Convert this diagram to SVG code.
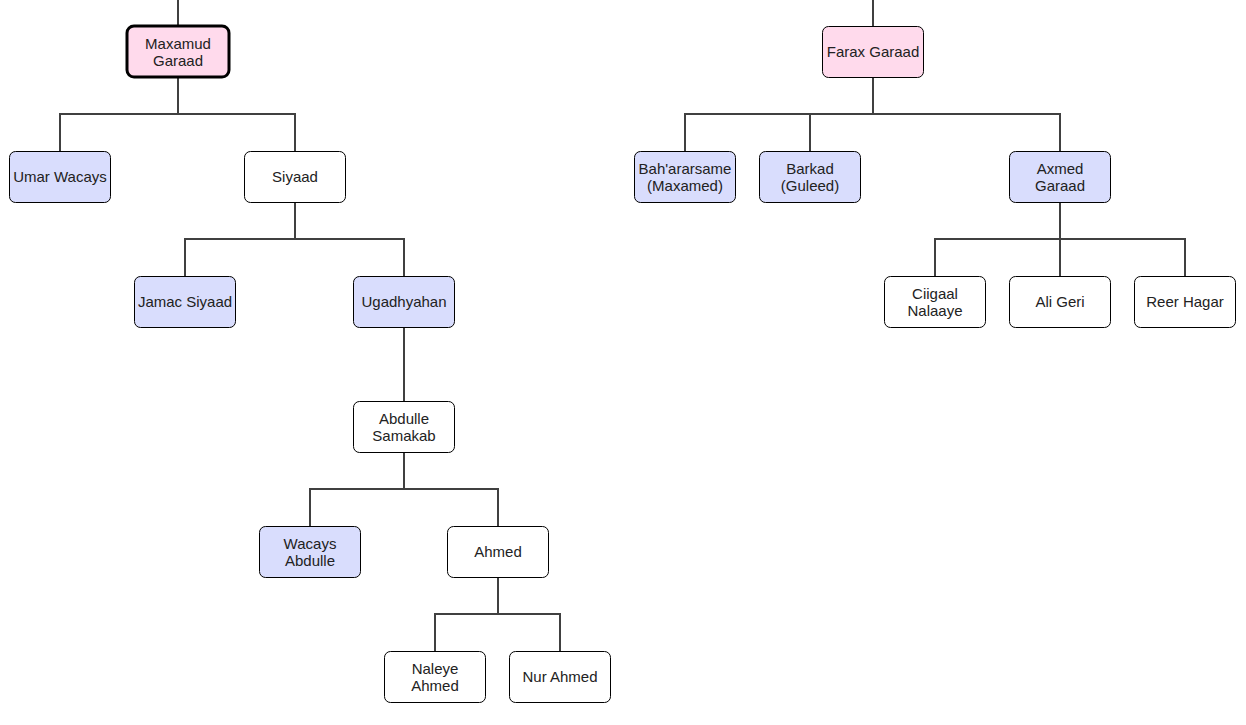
<svg xmlns="http://www.w3.org/2000/svg" width="1246" height="725" viewBox="0 0 1246 725">
<style>
.n rect{stroke:#000;stroke-width:1;}
.b rect{fill:#d9ddfd;}
.w rect{fill:#fff;}
.p rect{fill:#ffdaec;}
.n text{font-family:"Liberation Sans",Arial,sans-serif;font-size:15px;fill:#222;text-anchor:middle;}
.c{fill:none;stroke:#404040;stroke-width:2;}
</style>
<rect width="1246" height="725" fill="#fff"/>
<g id="connectors" class="c">
<path d="M178 0V26M873 0V26"/>
<path d="M178 78V114M60 151V114H295V151"/>
<path d="M295 202V239M185 276V239H404V276"/>
<path d="M404 327V401"/>
<path d="M404 452V489M310 526V489H498V526"/>
<path d="M498 577V614M435 651V614H560V651"/>
<path d="M873 77V114M685 151V114H1060V151M810 114V151"/>
<path d="M1060 202V239M935 276V239H1185V276M1060 239V276"/>
</g>
<g id="maxamud" class="n p"><rect x="127" y="26" width="102" height="51" rx="7" style="stroke-width:3"/><text x="178" y="49">Maxamud</text><text x="178" y="66">Garaad</text></g>
<g id="umar" class="n b"><rect x="9.5" y="151.5" width="101" height="51" rx="6"/><text x="60" y="182">Umar Wacays</text></g>
<g id="siyaad" class="n w"><rect x="244.5" y="151.5" width="101" height="51" rx="6"/><text x="295" y="182">Siyaad</text></g>
<g id="jamac" class="n b"><rect x="134.5" y="276.5" width="101" height="51" rx="6"/><text x="185" y="307">Jamac Siyaad</text></g>
<g id="ugadhyahan" class="n b"><rect x="353.5" y="276.5" width="101" height="51" rx="6"/><text x="404" y="307">Ugadhyahan</text></g>
<g id="abdulle" class="n w"><rect x="353.5" y="401.5" width="101" height="51" rx="6"/><text x="404" y="424">Abdulle</text><text x="404" y="441">Samakab</text></g>
<g id="wacays" class="n b"><rect x="259.5" y="526.5" width="101" height="51" rx="6"/><text x="310" y="549">Wacays</text><text x="310" y="566">Abdulle</text></g>
<g id="ahmed" class="n w"><rect x="447.5" y="526.5" width="101" height="51" rx="6"/><text x="498" y="557">Ahmed</text></g>
<g id="naleye" class="n w"><rect x="384.5" y="651.5" width="101" height="51" rx="6"/><text x="435" y="674">Naleye</text><text x="435" y="691">Ahmed</text></g>
<g id="nur" class="n w"><rect x="509.5" y="651.5" width="101" height="51" rx="6"/><text x="560" y="682">Nur Ahmed</text></g>
<g id="farax" class="n p"><rect x="822.5" y="26.5" width="101" height="51" rx="6"/><text x="873" y="57">Farax Garaad</text></g>
<g id="bah" class="n b"><rect x="634.5" y="151.5" width="101" height="51" rx="6"/><text x="685" y="174">Bah'ararsame</text><text x="685" y="191">(Maxamed)</text></g>
<g id="barkad" class="n b"><rect x="759.5" y="151.5" width="101" height="51" rx="6"/><text x="810" y="174">Barkad</text><text x="810" y="191">(Guleed)</text></g>
<g id="axmed" class="n b"><rect x="1009.5" y="151.5" width="101" height="51" rx="6"/><text x="1060" y="174">Axmed</text><text x="1060" y="191">Garaad</text></g>
<g id="ciigaal" class="n w"><rect x="884.5" y="276.5" width="101" height="51" rx="6"/><text x="935" y="299">Ciigaal</text><text x="935" y="316">Nalaaye</text></g>
<g id="aligeri" class="n w"><rect x="1009.5" y="276.5" width="101" height="51" rx="6"/><text x="1060" y="307">Ali Geri</text></g>
<g id="reerhagar" class="n w"><rect x="1134.5" y="276.5" width="101" height="51" rx="6"/><text x="1185" y="307">Reer Hagar</text></g>
</svg>
